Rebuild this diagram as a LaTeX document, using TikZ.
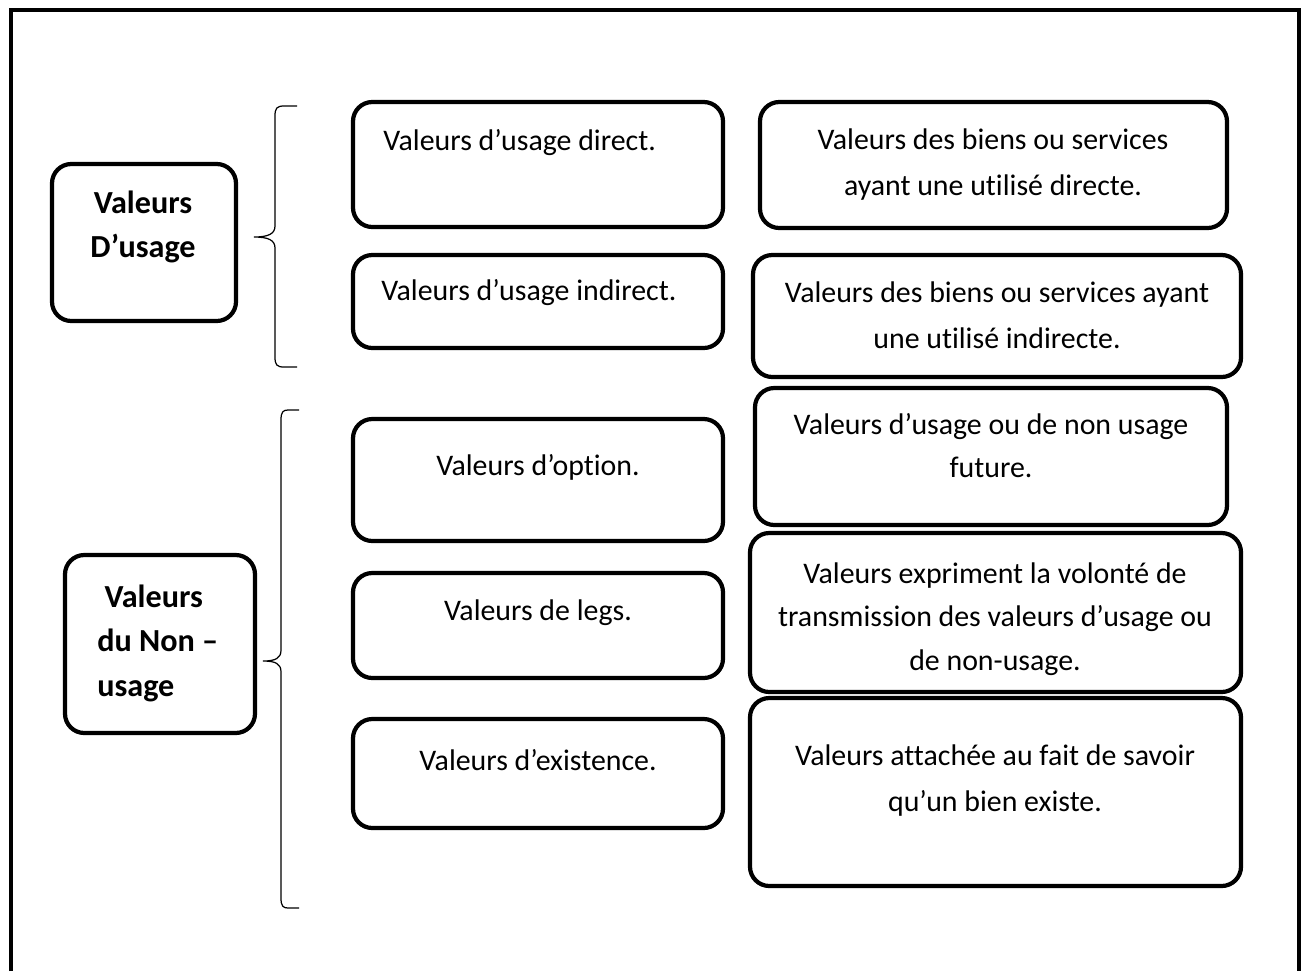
\documentclass[tikz,border=0pt]{standalone}
\usepackage{fontspec}
\setmainfont{Carlito}[Ligatures=NoCommon]
\usetikzlibrary{fit}

\newcommand{\espace}{\spaceskip=\fontdimen2\font\xspaceskip=\fontdimen2\font}
\tikzset{
  boite/.style={draw, line width=2.4pt, rounded corners=11pt, inner sep=0pt, outer sep=0pt},
  texte/.style={font=\fontsize{17}{25}\selectfont, inner sep=0pt},
  notice/.style={texte, text width=9.4cm, execute at begin node={\centering\espace}},
  large/.style={font=\fontsize{17}{26.5}\selectfont},
  titre/.style={font=\bfseries\fontsize{18.3}{25.5}\selectfont, inner sep=0pt, text width=3.4cm},
  accol/.style={line width=0.7pt},
}

\begin{document}
\begin{tikzpicture}[x=0.02cm,y=-0.02cm]
\useasboundingbox (0,0) rectangle (1308,971);
% cadre
\draw[line width=2.3pt] (11,971) -- (11,10) -- (1299,10) -- (1299,971);

% les deux familles
\node[boite, fit={(52,164) (236,321)}] (usage) {};
\node[titre, execute at begin node={\centering\espace}, anchor=base] (tusage) at (143,213) {Valeurs\\D’usage};
\node[boite, fit={(65,555) (255,733)}] (nonusage) {};
\node[titre, execute at begin node={\raggedright\espace}, anchor=base west] (tnonusage) at (97,607) {\ Valeurs\\du Non –\\usage};

% accolades
\draw[accol] (297,106) -- (284,106) .. controls (277,106) and (275,108) .. (275,116) -- (275,226)
  .. controls (275,234) and (268,237) .. (254,237) .. controls (268,237) and (275,240) .. (275,248)
  -- (275,357) .. controls (275,365) and (277,367) .. (284,367) -- (297,367);
\draw[accol] (299,410) -- (288,410) .. controls (283,410) and (281,412) .. (281,420) -- (281,650)
  .. controls (281,658) and (276,661) .. (263,661) .. controls (276,661) and (281,664) .. (281,672)
  -- (281,898) .. controls (281,906) and (283,908) .. (288,908) -- (299,908);

% colonne du milieu
\node[boite, fit={(353,102) (723,227)}] (direct) {};
\node[texte, anchor=base west] (tdirect) at (383,150) {Valeurs d’usage direct.};
\node[boite, fit={(353,255) (723,348)}] (indirect) {};
\node[texte, anchor=base west] (tindirect) at (381,300) {Valeurs d’usage indirect.};
\node[boite, fit={(353,419) (723,541)}] (option) {};
\node[texte, anchor=base] (toption) at (538,475) {Valeurs d’option.};
\node[boite, fit={(353,573) (723,678)}] (legs) {};
\node[texte, anchor=base] (tlegs) at (538,620) {Valeurs de legs.};
\node[boite, fit={(353,719) (723,828)}] (existence) {};
\node[texte, anchor=base] (texistence) at (538,770) {Valeurs d’existence.};

% colonne de droite
\node[boite, fit={(760,102) (1227,228)}] (ddirect) {};
\node[notice, large, anchor=base] (tddirect) at (993,149) {Valeurs des biens ou services\\ayant une utilisé directe.};
\node[boite, fit={(753,255) (1241,377)}] (dindirect) {};
\node[notice, large, anchor=base] (tdindirect) at (997,302) {Valeurs des biens ou services ayant\\une utilisé indirecte.};
\node[boite, fit={(755,388) (1227,525)}] (doption) {};
\node[notice, anchor=base] (tdoption) at (991,434) {Valeurs d’usage ou de non usage\\future.};
\node[boite, fit={(750,533) (1241,692)}] (dlegs) {};
\node[notice, anchor=base] (tdlegs) at (995,583) {Valeurs expriment la volonté de\\transmission des valeurs d’usage ou\\de non-usage.};
\node[boite, fit={(750,698) (1241,886)}] (dexistence) {};
\node[notice, large, anchor=base] (tdexistence) at (995,765) {Valeurs attachée au fait de savoir\\qu’un bien existe.};
\end{tikzpicture}
\end{document}
